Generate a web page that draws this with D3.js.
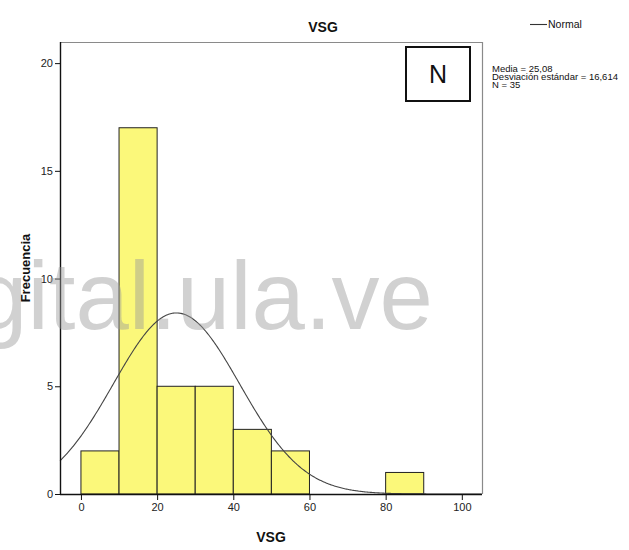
<!DOCTYPE html>
<html>
<head>
<meta charset="utf-8">
<script src="https://cdn.jsdelivr.net/npm/d3@7"></script>
<style>
  html, body { margin: 0; padding: 0; background: #fff; }
  svg { display: block; }
  text { font-family: "Liberation Sans", Arial, sans-serif; }
</style>
</head>
<body>
<svg id="chart" width="629" height="550"></svg>
<script>
// Histogram bins of VSG (lower edge) and their frequencies
const binStarts = [0, 10, 20, 30, 40, 50, 60, 70, 80];
const binWidth = 10;
const counts = [2, 17, 5, 5, 3, 2, 0, 0, 1];

// Descriptive statistics for the fitted normal curve
const mean = 25.08;
const sd = 16.614;
const n = 35;

// Axis ticks
const xTicks = [0, 20, 40, 60, 80, 100];
const yTicks = [0, 5, 10, 15, 20];

const statsLines = ["Media = 25,08", "Desviación estándar = 16,614", "N = 35"];

const svg = d3.select("#chart");
const plot = { left: 60, right: 482, top: 42, bottom: 494 };

const x = d3.scaleLinear().domain([-5.5, 105.3]).range([plot.left, plot.right]);
const y = d3.scaleLinear().domain([0, 20.98]).range([plot.bottom, plot.top]);

// Bars
const bins = binStarts.map((s, i) => ({ x0: s, x1: s + binWidth, count: counts[i] }))
  .filter(d => d.count > 0);

svg.append("g").selectAll("rect").data(bins).join("rect")
  .attr("x", d => x(d.x0))
  .attr("y", d => y(d.count))
  .attr("width", d => x(d.x1) - x(d.x0))
  .attr("height", d => y(0) - y(d.count))
  .attr("fill", "#fbf87a")
  .attr("stroke", "#222")
  .attr("stroke-width", 1);

// Normal curve scaled to frequency: n * binWidth * pdf
const pdf = v => Math.exp(-0.5 * ((v - mean) / sd) ** 2) / (sd * Math.sqrt(2 * Math.PI));
const curveX = d3.range(x.domain()[0], x.domain()[1] + 0.01, 0.25);
const line = d3.line().x(v => x(v)).y(v => y(n * binWidth * pdf(v)));
svg.append("path")
  .datum(curveX)
  .attr("d", line)
  .attr("fill", "none")
  .attr("stroke", "#444")
  .attr("stroke-width", 1.1);

// Frame: top and right edges in gray
svg.append("line").attr("x1", plot.left).attr("x2", plot.right).attr("y1", plot.top + 0.5).attr("y2", plot.top + 0.5)
  .attr("stroke", "#8a8a8a").attr("stroke-width", 1.2);
svg.append("line").attr("x1", plot.right + 0.5).attr("x2", plot.right + 0.5).attr("y1", plot.top).attr("y2", plot.bottom)
  .attr("stroke", "#8a8a8a").attr("stroke-width", 1.2);

// Axes
const xAxis = d3.axisBottom(x).tickValues(xTicks).tickSize(6).tickSizeOuter(0).tickPadding(3);
const yAxis = d3.axisLeft(y).tickValues(yTicks).tickSize(5).tickSizeOuter(0).tickPadding(2);

const gx = svg.append("g").attr("transform", `translate(0,${plot.bottom})`).call(xAxis);
gx.select(".domain").attr("d", `M${plot.left},0.5H${plot.right}`).attr("stroke", "#111").attr("stroke-width", 1.4);
gx.selectAll(".tick line").attr("stroke", "#111");
gx.selectAll(".tick text").attr("font-size", 11).attr("fill", "#222").attr("font-family", "Liberation Sans, Arial, sans-serif");

const gy = svg.append("g").attr("transform", `translate(${plot.left},0)`).call(yAxis);
gy.select(".domain").attr("d", `M0.5,${plot.top}V${plot.bottom}`).attr("stroke", "#111").attr("stroke-width", 1.4);
gy.selectAll(".tick line").attr("stroke", "#111");
gy.selectAll(".tick text").attr("font-size", 11).attr("fill", "#222").attr("font-family", "Liberation Sans, Arial, sans-serif");

// Titles
svg.append("text").attr("x", 323).attr("y", 32).attr("text-anchor", "middle")
  .attr("font-size", 14).attr("font-weight", "bold").attr("fill", "#111").text("VSG");
svg.append("text").attr("x", 271).attr("y", 542).attr("text-anchor", "middle")
  .attr("font-size", 14).attr("font-weight", "bold").attr("fill", "#111").text("VSG");
svg.append("text").attr("transform", `translate(30,${(plot.top + plot.bottom) / 2}) rotate(-90)`)
  .attr("text-anchor", "middle").attr("font-size", 13).attr("font-weight", "bold").attr("fill", "#111")
  .text("Frecuencia");

// Legend
svg.append("line").attr("x1", 530).attr("x2", 547).attr("y1", 24.5).attr("y2", 24.5)
  .attr("stroke", "#333").attr("stroke-width", 1.1);
svg.append("text").attr("x", 548).attr("y", 28).attr("font-size", 10.5).attr("fill", "#111")
  .attr("font-family", "Liberation Sans Narrow, Liberation Sans, Arial, sans-serif").text("Normal");

// Statistics block
svg.append("g").selectAll("text").data(statsLines).join("text")
  .attr("x", 492).attr("y", (d, i) => 72 + i * 8)
  .attr("font-size", 9.5)
  .attr("font-family", "Liberation Sans Narrow, Liberation Sans, Arial, sans-serif")
  .attr("fill", "#111")
  .text(d => d);

// Boxed panel label
svg.append("rect").attr("x", 406).attr("y", 47).attr("width", 64).attr("height", 54)
  .attr("fill", "#fff").attr("stroke", "#111").attr("stroke-width", 2);
svg.append("text").attr("x", 438).attr("y", 83).attr("text-anchor", "middle")
  .attr("font-size", 25).attr("fill", "#111").text("N");

// Repository watermark
svg.append("text").attr("x", 433).attr("y", 329).attr("text-anchor", "end")
  .attr("font-size", 96).attr("fill", "#9a9a9a").attr("fill-opacity", 0.45)
  .text("gital.ula.ve");
</script>
</body>
</html>
